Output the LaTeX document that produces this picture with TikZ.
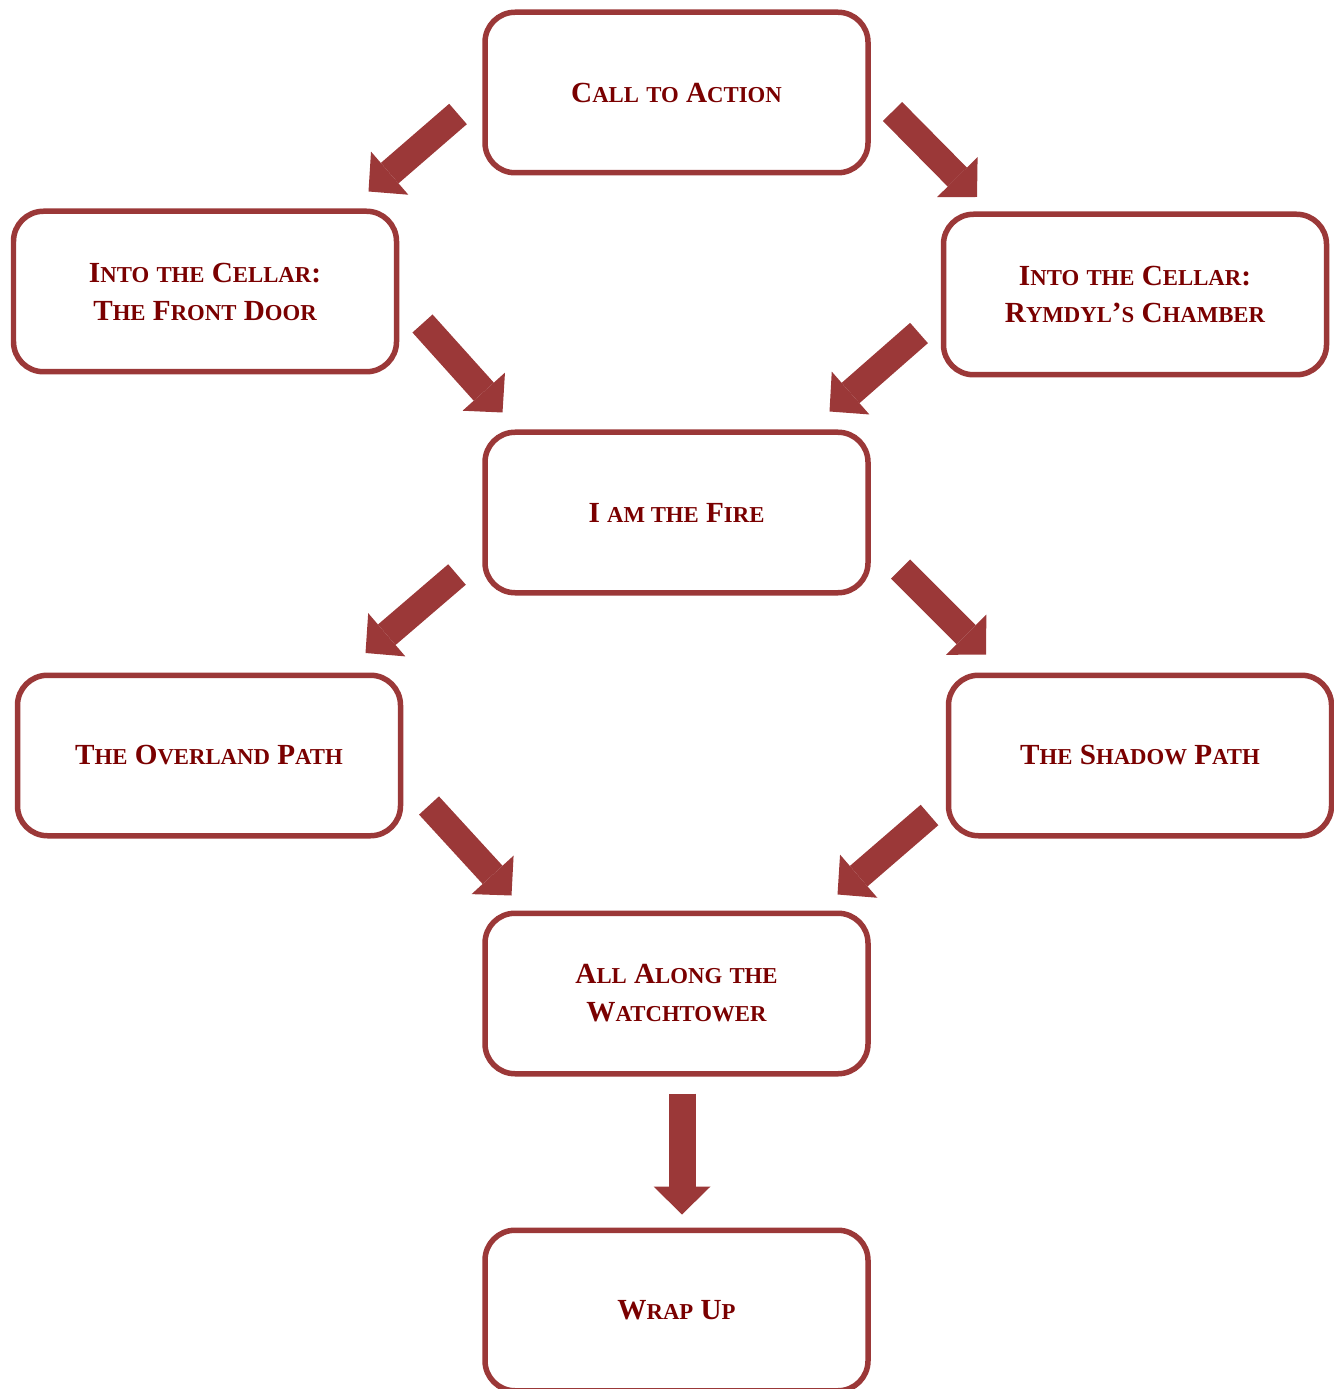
\documentclass[tikz,border=0pt]{standalone}
\usepackage{fontspec}
\setmainfont{Liberation Serif}
\usepackage{xcolor}
\usepackage{tikz}
\usetikzlibrary{positioning, calc, arrows.meta}
\definecolor{boxred}{RGB}{155,56,56}
\definecolor{textred}{RGB}{122,0,0}
\newdimen\capdim
\makeatletter
\newcommand{\lowcaps}[1]{{\capdim=\f@size pt\capdim=0.78\capdim\fontsize{\capdim}{\capdim}\selectfont #1}}
\makeatother
\newcommand{\scw}[2]{#1\lowcaps{#2}}
\tikzset{
    stage/.style={rectangle, rounded corners=0.3cm, draw=boxred, fill=white, line width=0.055cm, minimum width=3.83cm, minimum height=1.605cm, align=center, text=textred, font=\fontsize{8.3}{10.8}\selectfont\bfseries},
    flow/.style={draw=boxred, line width=0.27cm, -{Triangle[width=0.57cm, length=0.28cm, line width=0pt]}},
}

\begin{document}
\begin{tikzpicture}
                        \useasboundingbox (0,0) rectangle (13.33,-13.89);
                        \node [stage] (call) at (6.765,-0.925) {\scw{C}{ALL} \lowcaps{TO} \scw{A}{CTION}};
                        \node [stage] (front) [below left=0.33cm and 0.83cm of call] {\scw{I}{NTO} \lowcaps{THE} \scw{C}{ELLAR}:\\\scw{T}{HE} \scw{F}{RONT} \scw{D}{OOR}};
                        \node [stage] (chamber) [below right=0.36cm and 0.70cm of call] {\scw{I}{NTO} \lowcaps{THE} \scw{C}{ELLAR}:\\\scw{R}{YMDYL}’\lowcaps{S} \scw{C}{HAMBER}};
                        \node [stage] (fire) [below=2.54cm of call] {I \lowcaps{AM THE} \scw{F}{IRE}};
                        \node [stage] (overland) [below left=0.77cm and 0.79cm of fire] {\scw{T}{HE} \scw{O}{VERLAND} \scw{P}{ATH}};
                        \node [stage] (shadow) [below right=0.77cm and 0.75cm of fire] {\scw{T}{HE} \scw{S}{HADOW} \scw{P}{ATH}};
                        \node [stage] (watch) [below=3.15cm of fire] {\scw{A}{LL} \scw{A}{LONG} \lowcaps{THE}\\\scw{W}{ATCHTOWER}};
                        \node [stage] (wrap) [below=1.51cm of watch] {\scw{W}{RAP} \scw{U}{P}};
                        % arrow ends
                        \coordinate (c1) at ($(call)+(-2.185,-0.215)$);
                        \coordinate (f1) at ($(front)+(1.635,1.00)$);
                        \coordinate (c2) at ($(call)+(2.16,-0.19)$);
                        \coordinate (r1) at ($(chamber)+(-1.58,0.975)$);
                        \coordinate (f2) at ($(front)+(2.175,-0.32)$);
                        \coordinate (i1) at ($(fire)+(-1.74,1.00)$);
                        \coordinate (r2) at ($(chamber)+(-2.16,-0.385)$);
                        \coordinate (i2) at ($(fire)+(1.53,1.01)$);
                        \coordinate (i3) at ($(fire)+(-2.195,-0.62)$);
                        \coordinate (o1) at ($(overland)+(1.565,1.025)$);
                        \coordinate (i4) at ($(fire)+(2.24,-0.565)$);
                        \coordinate (s1) at ($(shadow)+(-1.54,1.01)$);
                        \coordinate (o2) at ($(overland)+(2.20,-0.50)$);
                        \coordinate (w1) at ($(watch)+(-1.65,0.98)$);
                        \coordinate (s2) at ($(shadow)+(-2.105,-0.595)$);
                        \coordinate (w2) at ($(watch)+(1.61,0.99)$);
                        \coordinate (w3) at ($(watch)+(0.055,-1.00)$);
                        \coordinate (u1) at ($(wrap)+(0.055,0.96)$);
                        \draw[flow] (c1) -- (f1);
                        \draw[flow] (c2) -- (r1);
                        \draw[flow] (f2) -- (i1);
                        \draw[flow] (r2) -- (i2);
                        \draw[flow] (i3) -- (o1);
                        \draw[flow] (i4) -- (s1);
                        \draw[flow] (o2) -- (w1);
                        \draw[flow] (s2) -- (w2);
                        \draw[flow] (w3) -- (u1);
                    \end{tikzpicture}
\end{document}
